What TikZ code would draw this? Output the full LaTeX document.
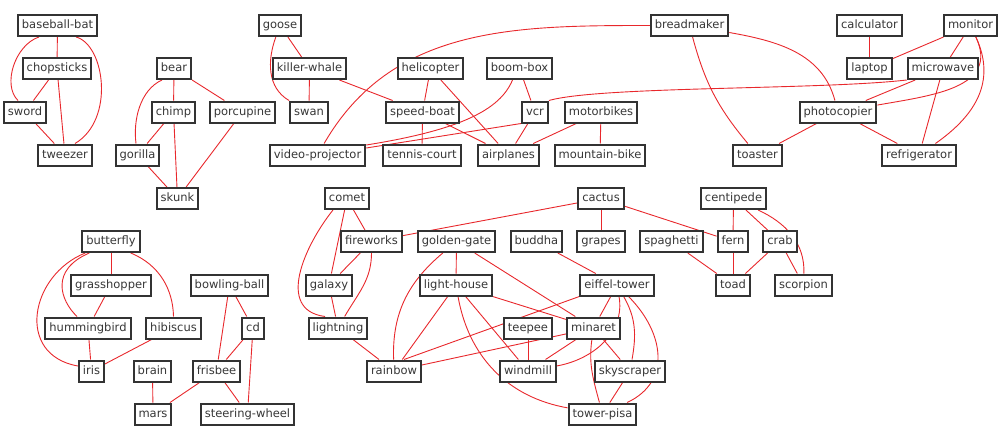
\documentclass[tikz,border=0pt]{standalone}
\usepackage{fontspec}
\setmainfont{DejaVu Sans}
\usepackage{tikz}
\usetikzlibrary{backgrounds}
\definecolor{linkred}{RGB}{232,40,44}
\definecolor{boxtext}{RGB}{55,55,55}

\begin{document}
\begin{tikzpicture}[
				x=1pt, y=1pt,
				term/.style={draw=black!80, line width=2pt, fill=white, text=boxtext, inner xsep=4pt, inner ysep=5pt,
					text height=8.5pt, text depth=2.5pt, font=\fontsize{11.5}{12}\selectfont},
				edge/.style={draw=linkred, line width=0.9pt}
				]
				
				\useasboundingbox (0,0) rectangle (1008,-432);
				
				% top half
				\node[term] (bat) at (57.5,-25.5) {baseball-bat};
				\node[term] (chop) at (57,-68.5) {chopsticks};
				\node[term] (sword) at (25,-112) {sword};
				\node[term] (tweezer) at (65,-155) {tweezer};
				
				\node[term] (bear) at (174,-68.5) {bear};
				\node[term] (chimp) at (173.5,-112) {chimp};
				\node[term] (porc) at (242.5,-112) {porcupine};
				\node[term] (gorilla) at (137.5,-155) {gorilla};
				\node[term] (skunk) at (177.5,-198.5) {skunk};
				
				\node[term] (goose) at (280,-25.5) {goose};
				\node[term] (whale) at (309.5,-68.5) {killer-whale};
				\node[term] (swan) at (309,-112) {swan};
				\node[term] (heli) at (430.5,-68.5) {helicopter};
				\node[term] (boom) at (519.5,-68.5) {boom-box};
				\node[term] (sboat) at (422.5,-112) {speed-boat};
				\node[term] (vcr) at (535,-112) {vcr};
				\node[term] (moto) at (601,-112) {motorbikes};
				\node[term] (vproj) at (317.5,-155) {video-projector};
				\node[term] (tennis) at (422,-155) {tennis-court};
				\node[term] (planes) at (508.5,-155) {airplanes};
				\node[term] (mbike) at (600,-155) {mountain-bike};
				
				\node[term] (bread) at (689.5,-25.5) {breadmaker};
				\node[term] (calc) at (869.5,-25.5) {calculator};
				\node[term] (monitor) at (970.5,-25.5) {monitor};
				\node[term] (laptop) at (869.5,-68.5) {laptop};
				\node[term] (micro) at (943,-68.5) {microwave};
				\node[term] (photo) at (838,-112) {photocopier};
				\node[term] (toaster) at (757.5,-155) {toaster};
				\node[term] (fridge) at (919,-155) {refrigerator};
				
				% bottom half
				\node[term] (butter) at (111,-241.5) {butterfly};
				\node[term] (grass) at (111,-285) {grasshopper};
				\node[term] (humm) at (88,-328) {hummingbird};
				\node[term] (hibis) at (173.5,-328) {hibiscus};
				\node[term] (iris) at (91.5,-371) {iris};
				\node[term] (brain) at (152.5,-371) {brain};
				\node[term] (mars) at (153,-414) {mars};
				\node[term] (bball) at (229.5,-285) {bowling-ball};
				\node[term] (cd) at (253,-328) {cd};
				\node[term] (frisbee) at (216.5,-371) {frisbee};
				\node[term] (wheel) at (247.5,-414) {steering-wheel};
				
				\node[term] (comet) at (347,-198.5) {comet};
				\node[term] (fire) at (371.5,-241.5) {fireworks};
				\node[term] (galaxy) at (329,-285) {galaxy};
				\node[term] (lightning) at (338,-328) {lightning};
				\node[term] (ggate) at (456.5,-241.5) {golden-gate};
				\node[term] (lhouse) at (456,-285) {light-house};
				\node[term] (buddha) at (536.5,-241.5) {buddha};
				\node[term] (cactus) at (601,-198.5) {cactus};
				\node[term] (grapes) at (601,-241.5) {grapes};
				\node[term] (eiffel) at (617,-285) {eiffel-tower};
				\node[term] (teepee) at (528,-328) {teepee};
				\node[term] (minaret) at (593.5,-328) {minaret};
				\node[term] (rainbow) at (394,-371) {rainbow};
				\node[term] (windmill) at (528,-371) {windmill};
				\node[term] (sky) at (630,-371) {skyscraper};
				\node[term] (pisa) at (602.5,-414) {tower-pisa};
				
				\node[term] (centi) at (733.5,-198.5) {centipede};
				\node[term] (spag) at (671.5,-241.5) {spaghetti};
				\node[term] (fern) at (733,-241.5) {fern};
				\node[term] (crab) at (780,-241.5) {crab};
				\node[term] (toad) at (733,-285) {toad};
				\node[term] (scorp) at (803.5,-285) {scorpion};
				
				\begin{scope}[on background layer]
				\foreach \a/\b in {bat/chop, chop/sword, chop/tweezer, sword/tweezer,
					bear/chimp, bear/porc, chimp/gorilla, chimp/skunk, gorilla/skunk, porc/skunk,
					goose/whale, whale/swan, whale/sboat, heli/sboat, heli/planes, boom/vcr,
					sboat/tennis, sboat/planes, vcr/planes, moto/planes, moto/mbike,
					calc/laptop, monitor/laptop, monitor/micro, micro/photo, micro/fridge,
					photo/toaster, photo/fridge,
					butter/grass, grass/humm, humm/iris, hibis/iris, brain/mars, frisbee/mars,
					bball/frisbee, bball/cd, cd/frisbee, cd/wheel, frisbee/wheel,
					comet/fire, comet/galaxy, fire/galaxy, galaxy/lightning, lightning/rainbow,
					cactus/fire, cactus/grapes, cactus/fern, ggate/lhouse, ggate/minaret,
					buddha/eiffel, lhouse/rainbow, lhouse/windmill, lhouse/minaret,
					eiffel/minaret, minaret/rainbow, minaret/windmill,
					minaret/sky, teepee/windmill, sky/pisa,
					centi/fern, centi/crab, spag/toad, fern/toad, crab/toad, crab/scorp} {
					\draw[edge] (\a) -- (\b);
				}
				\draw[edge] (vcr.south west) -- ([yshift=7pt]vproj.east);
				\draw[edge] (eiffel.south west) -- ([xshift=-18pt]rainbow.north east);
				
				% curved links
				\draw[edge] ([xshift=22pt]bat.south west) .. controls (15,-45) and (2,-85) .. ([xshift=-7pt]sword.north);
				\draw[edge] ([xshift=-22pt]bat.south east) .. controls (105,-45) and (115,-120) .. ([xshift=10pt]tweezer.north);
				\draw[edge] ([xshift=-12pt]bear.south) .. controls (140,-90) and (133,-120) .. ([xshift=-1.5pt]gorilla.north);
				\draw[edge] (goose) to[out=250, in=150] (swan);
				\draw[edge] (vproj) to[out=60, in=180] (bread);
				\draw[edge] ([xshift=-7pt]boom.south) .. controls (500,-110) and (460,-130) .. ([yshift=10pt]vproj.east);
				\draw[edge] (vcr.north east) .. controls (600,-86) and (820,-90) .. (micro.south west);
				\draw[edge] (bread) to[out=285, in=130] (toaster);
				\draw[edge] (bread) to[out=350, in=105] (photo);
				\draw[edge] (monitor) to[out=295, in=10, looseness=1.2] (photo);
				\draw[edge] (monitor) to[out=295, in=35, looseness=1.1] (fridge);
				\draw[edge] ([xshift=8pt]butter.south west) .. controls (50,-270) and (60,-300) .. ([xshift=-11pt]humm.north);
				\draw[edge] ([xshift=4pt]butter.south west) .. controls (30,-275) and (15,-355) .. ([yshift=5pt]iris.west);
				\draw[edge] ([xshift=-10pt]butter.south east) .. controls (160,-265) and (173,-290) .. (hibis.north);
				\draw[edge] ([xshift=-14pt]comet.south) .. controls (305,-245) and (275,-310) .. ([xshift=-13pt]lightning.north);
				\draw[edge] (fire) to[out=270, in=60] (lightning);
				\draw[edge] (ggate) to[out=220, in=92] (rainbow);
				\draw[edge] (lhouse) to[out=280, in=170] (pisa);
				\draw[edge] (eiffel) to[out=280, in=10] (windmill);
				\draw[edge] (eiffel) to[out=300, in=80] (sky);
				\draw[edge] (eiffel) to[out=315, in=25, looseness=1.2] (pisa);
				\draw[edge] (minaret) to[out=262, in=105] (pisa);
				\draw[edge] (centi) to[out=335, in=88] (scorp);
				\end{scope}
			\end{tikzpicture}
\end{document}
